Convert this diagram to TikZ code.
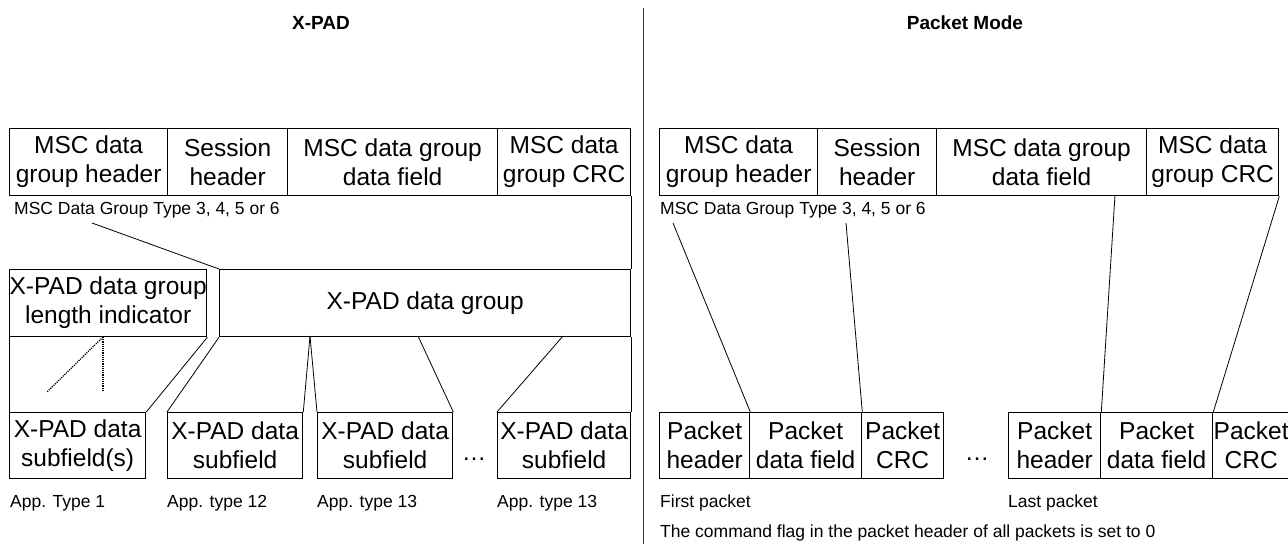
\documentclass[tikz,border=0pt]{standalone}
\usepackage{fontspec}
\setmainfont{Liberation Sans}
\begin{document}
\begin{tikzpicture}[x=1pt,y=-1pt,
  cell/.style={draw, line width=1.3pt, inner sep=0pt, align=center, anchor=north west,
    font=\fontsize{24.5}{29}\selectfont, minimum height=67pt},
  note/.style={anchor=west, inner sep=0pt, font=\fontsize{17.5}{20}\selectfont},
  heading/.style={inner sep=0pt, font=\bfseries\fontsize{19}{22}\selectfont},
  link/.style={line width=0.8pt},
  dotlink/.style={line width=1.2pt, densely dotted},
  divider/.style={line width=0.9pt, black!75}]
\useasboundingbox (0,0) rectangle (1288,544);
\clip (0,0) rectangle (1288,544);

% headings and the separating rule
\node[heading] (hxpad) at (321,23) {X-PAD};
\node[heading] (hpkt) at (965,23) {Packet Mode};
\coordinate (dtop) at (643,8);
\coordinate (dbot) at (643,544);
\draw[divider] (dtop) -- (dbot);

% ---------------- X-PAD ----------------
\node[cell, minimum width=158pt] (a1) at (9,128) {MSC data\\group header};
\node[cell, minimum width=120pt] (a2) at (167,128) {Session\\header};
\node[cell, minimum width=210pt] (a3) at (287,128) {MSC data group\\data field};
\node[cell, minimum width=133pt] (a4) at (497,128) {MSC data\\group CRC};
\node[note] (lab1) at (14,210) {MSC Data Group Type 3, 4, 5 or 6};

\node[cell, minimum width=196pt] (len) at (9,269) {X-PAD data group\\length indicator};
\node[cell, minimum width=411pt] (grp) at (219,269) {X-PAD data group};

\node[cell, minimum width=136pt, minimum height=66pt] (s1) at (9,412) {X-PAD data\\subfield(s)};
\node[cell, minimum width=135pt, minimum height=66pt] (s2) at (167,412) {X-PAD data\\subfield};
\node[cell, minimum width=135pt, minimum height=66pt] (s3) at (317,412) {X-PAD data\\subfield};
\node[cell, minimum width=133pt, minimum height=66pt] (s4) at (497,412) {X-PAD data\\subfield};
\node[inner sep=0pt, font=\fontsize{24.5}{28}\selectfont] (sdots) at (474,459) {…};

\node[note] (t1) at (10,503) {App. Type 1};
\node[note] (t2) at (167,503) {App. type 12};
\node[note] (t3) at (317,503) {App. type 13};
\node[note] (t4) at (497,503) {App. type 13};

\coordinate (l1) at (92,223);
\coordinate (g1) at (310,336);
\coordinate (g2) at (418,336);
\coordinate (g3) at (563,336);
\coordinate (li) at (103,337);
\coordinate (lia) at (47,392);
\coordinate (lib) at (103,392);

\draw[link] (l1) -- (grp.north west);
\draw[link] (a4.south east) -- (grp.north east);
\draw[link] (len.south west) -- (s1.north west);
\draw[link] (len.south east) -- (s1.north east);
\draw[link] (grp.south west) -- (s2.north west);
\draw[link] (g1) -- (s2.north east);
\draw[link] (g1) -- (s3.north west);
\draw[link] (g2) -- (s3.north east);
\draw[link] (g3) -- (s4.north west);
\draw[link] (grp.south east) -- (s4.north east);
\draw[dotlink] (li) -- (lia);
\draw[dotlink] (li) -- (lib);

% ---------------- Packet Mode ----------------
\node[cell, minimum width=158pt] (b1) at (659,128) {MSC data\\group header};
\node[cell, minimum width=119pt] (b2) at (817,128) {Session\\header};
\node[cell, minimum width=210pt] (b3) at (936,128) {MSC data group\\data field};
\node[cell, minimum width=132pt] (b4) at (1146,128) {MSC data\\group CRC};
\node[note] (lab2) at (660,210) {MSC Data Group Type 3, 4, 5 or 6};

\node[cell, minimum width=90pt, minimum height=66pt] (p1) at (659,412) {Packet\\header};
\node[cell, minimum width=112pt, minimum height=66pt] (p2) at (749,412) {Packet\\data field};
\node[cell, minimum width=82pt, minimum height=66pt] (p3) at (861,412) {Packet\\CRC};
\node[inner sep=0pt, font=\fontsize{24.5}{28}\selectfont] (pdots) at (977,459) {…};
\node[cell, minimum width=92pt, minimum height=66pt] (q1) at (1008,412) {Packet\\header};
\node[cell, minimum width=112pt, minimum height=66pt] (q2) at (1100,412) {Packet\\data field};
\node[cell, minimum width=77pt, minimum height=66pt] (q3) at (1212,412) {Packet\\CRC};

\node[note] (fp) at (660,503) {First packet};
\node[note] (lp) at (1008,503) {Last packet};
\node[note] (cmd) at (660,533) {The command flag in the packet header of all packets is set to 0};

\coordinate (r1) at (673,223);
\coordinate (r2) at (846,223);
\coordinate (r3) at (1115,195);

\draw[link] (r1) -- (p1.north east);
\draw[link] (r2) -- (p2.north east);
\draw[link] (r3) -- (q1.north east);
\draw[link] (b4.south east) -- (q2.north east);
\end{tikzpicture}
\end{document}
